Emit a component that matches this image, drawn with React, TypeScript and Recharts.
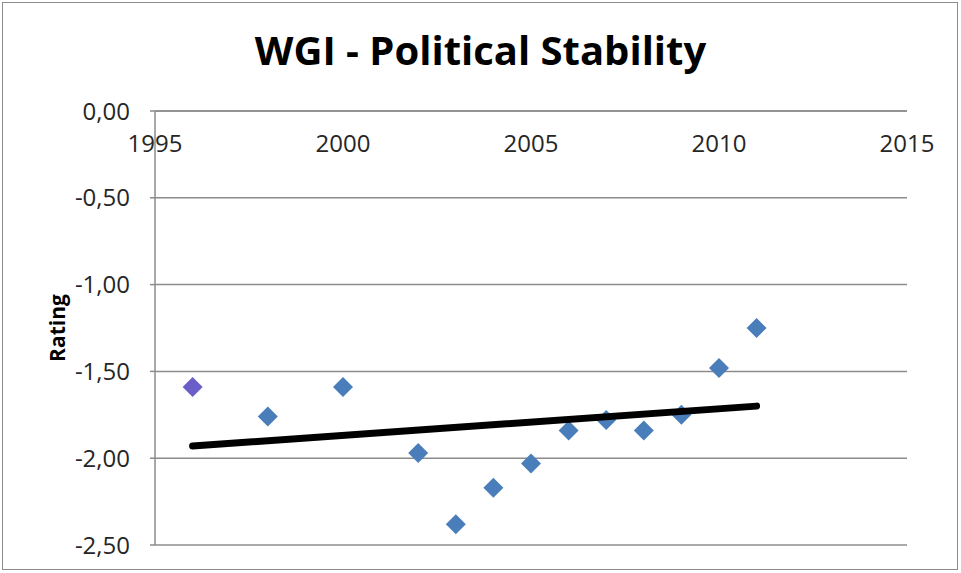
import { ScatterChart, Scatter, XAxis, YAxis, CartesianGrid, Cell } from 'recharts';

const years = [1996, 1998, 2000, 2002, 2003, 2004, 2005, 2006, 2007, 2008, 2009, 2010, 2011];
const ratings = [-1.59, -1.76, -1.59, -1.97, -2.38, -2.17, -2.03, -1.84, -1.78, -1.84, -1.75, -1.48, -1.25];

const trendYears = [1996, 2011];
const trendValues = [-1.93, -1.7];

const xTicks = [1995, 2000, 2005, 2010, 2015];
const yTicks = [-2.5, -2, -1.5, -1, -0.5, 0];

const points = years.map((year, i) => ({ year, rating: ratings[i] }));
const trend = trendYears.map((year, i) => ({ year, rating: trendValues[i] }));

const font = "'Open Sans', 'Noto Sans', sans-serif";

const Diamond = (props: any) => {
    const { cx, cy, fill } = props;
    const r = 10;
    return <polygon points={`${cx},${cy - r} ${cx + r},${cy} ${cx},${cy + r} ${cx - r},${cy}`} fill={fill} />;
};

const XTick = (props: any) => {
    const { x, y, payload } = props;
    return (
        <text x={x} y={y} dy={43} textAnchor="middle" fontSize={24} fill="#262626" fontFamily={font}>
            {payload.value}
        </text>
    );
};

export default function App() {
    return (
        <div style={{ position: 'fixed', left: 0, top: 0, width: 961, height: 573, background: '#fff' }}>
            <div
                style={{
                    position: 'absolute',
                    left: 2,
                    top: 2,
                    width: 954,
                    height: 566,
                    border: '1px solid #8c8c8c',
                }}
            />
            <div
                style={{
                    position: 'absolute',
                    left: 0,
                    width: 961,
                    top: 22,
                    textAlign: 'center',
                    fontFamily: font,
                    fontWeight: 700,
                    fontSize: 40,
                    color: '#000',
                    lineHeight: '56px',
                }}
            >
                WGI - Political Stability
            </div>
            <ScatterChart width={961} height={573} margin={{ top: 81, right: 54, bottom: 28, left: 0 }}>
                <CartesianGrid vertical={false} stroke="#8c8c8c" strokeWidth={1.5} />
                <XAxis
                    type="number"
                    dataKey="year"
                    orientation="top"
                    domain={[1995, 2015]}
                    ticks={xTicks}
                    height={30}
                    tickSize={0}
                    tickLine={false}
                    stroke="#8c8c8c"
                    strokeWidth={1.5}
                    tick={<XTick />}
                />
                <YAxis
                    type="number"
                    dataKey="rating"
                    domain={[-2.5, 0]}
                    ticks={yTicks}
                    width={155}
                    tickSize={5}
                    tickMargin={20}
                    stroke="#8c8c8c"
                    strokeWidth={1.5}
                    tick={{ fontSize: 24, fill: '#262626', fontFamily: font }}
                    tickFormatter={(v: number) => v.toFixed(2).replace('.', ',')}
                    label={({ viewBox }: any) => (
                        <text
                            x={viewBox.x + 57}
                            y={viewBox.y + viewBox.height / 2}
                            transform={`rotate(-90, ${viewBox.x + 57}, ${viewBox.y + viewBox.height / 2})`}
                            textAnchor="middle"
                            dominantBaseline="central"
                            fontSize={21}
                            fontWeight={700}
                            fontFamily={font}
                            fill="#000"
                        >
                            Rating
                        </text>
                    )}
                />
                <Scatter data={points} shape={<Diamond />} isAnimationActive={false}>
                    {points.map((p, i) => (
                        <Cell key={p.year} fill={i === 0 ? '#6a5fc8' : '#4a7ebb'} />
                    ))}
                </Scatter>
                <Scatter
                    data={trend}
                    line={{ stroke: '#000', strokeWidth: 7, strokeLinecap: 'round' }}
                    shape={() => <g />}
                    isAnimationActive={false}
                />
            </ScatterChart>
        </div>
    );
}
